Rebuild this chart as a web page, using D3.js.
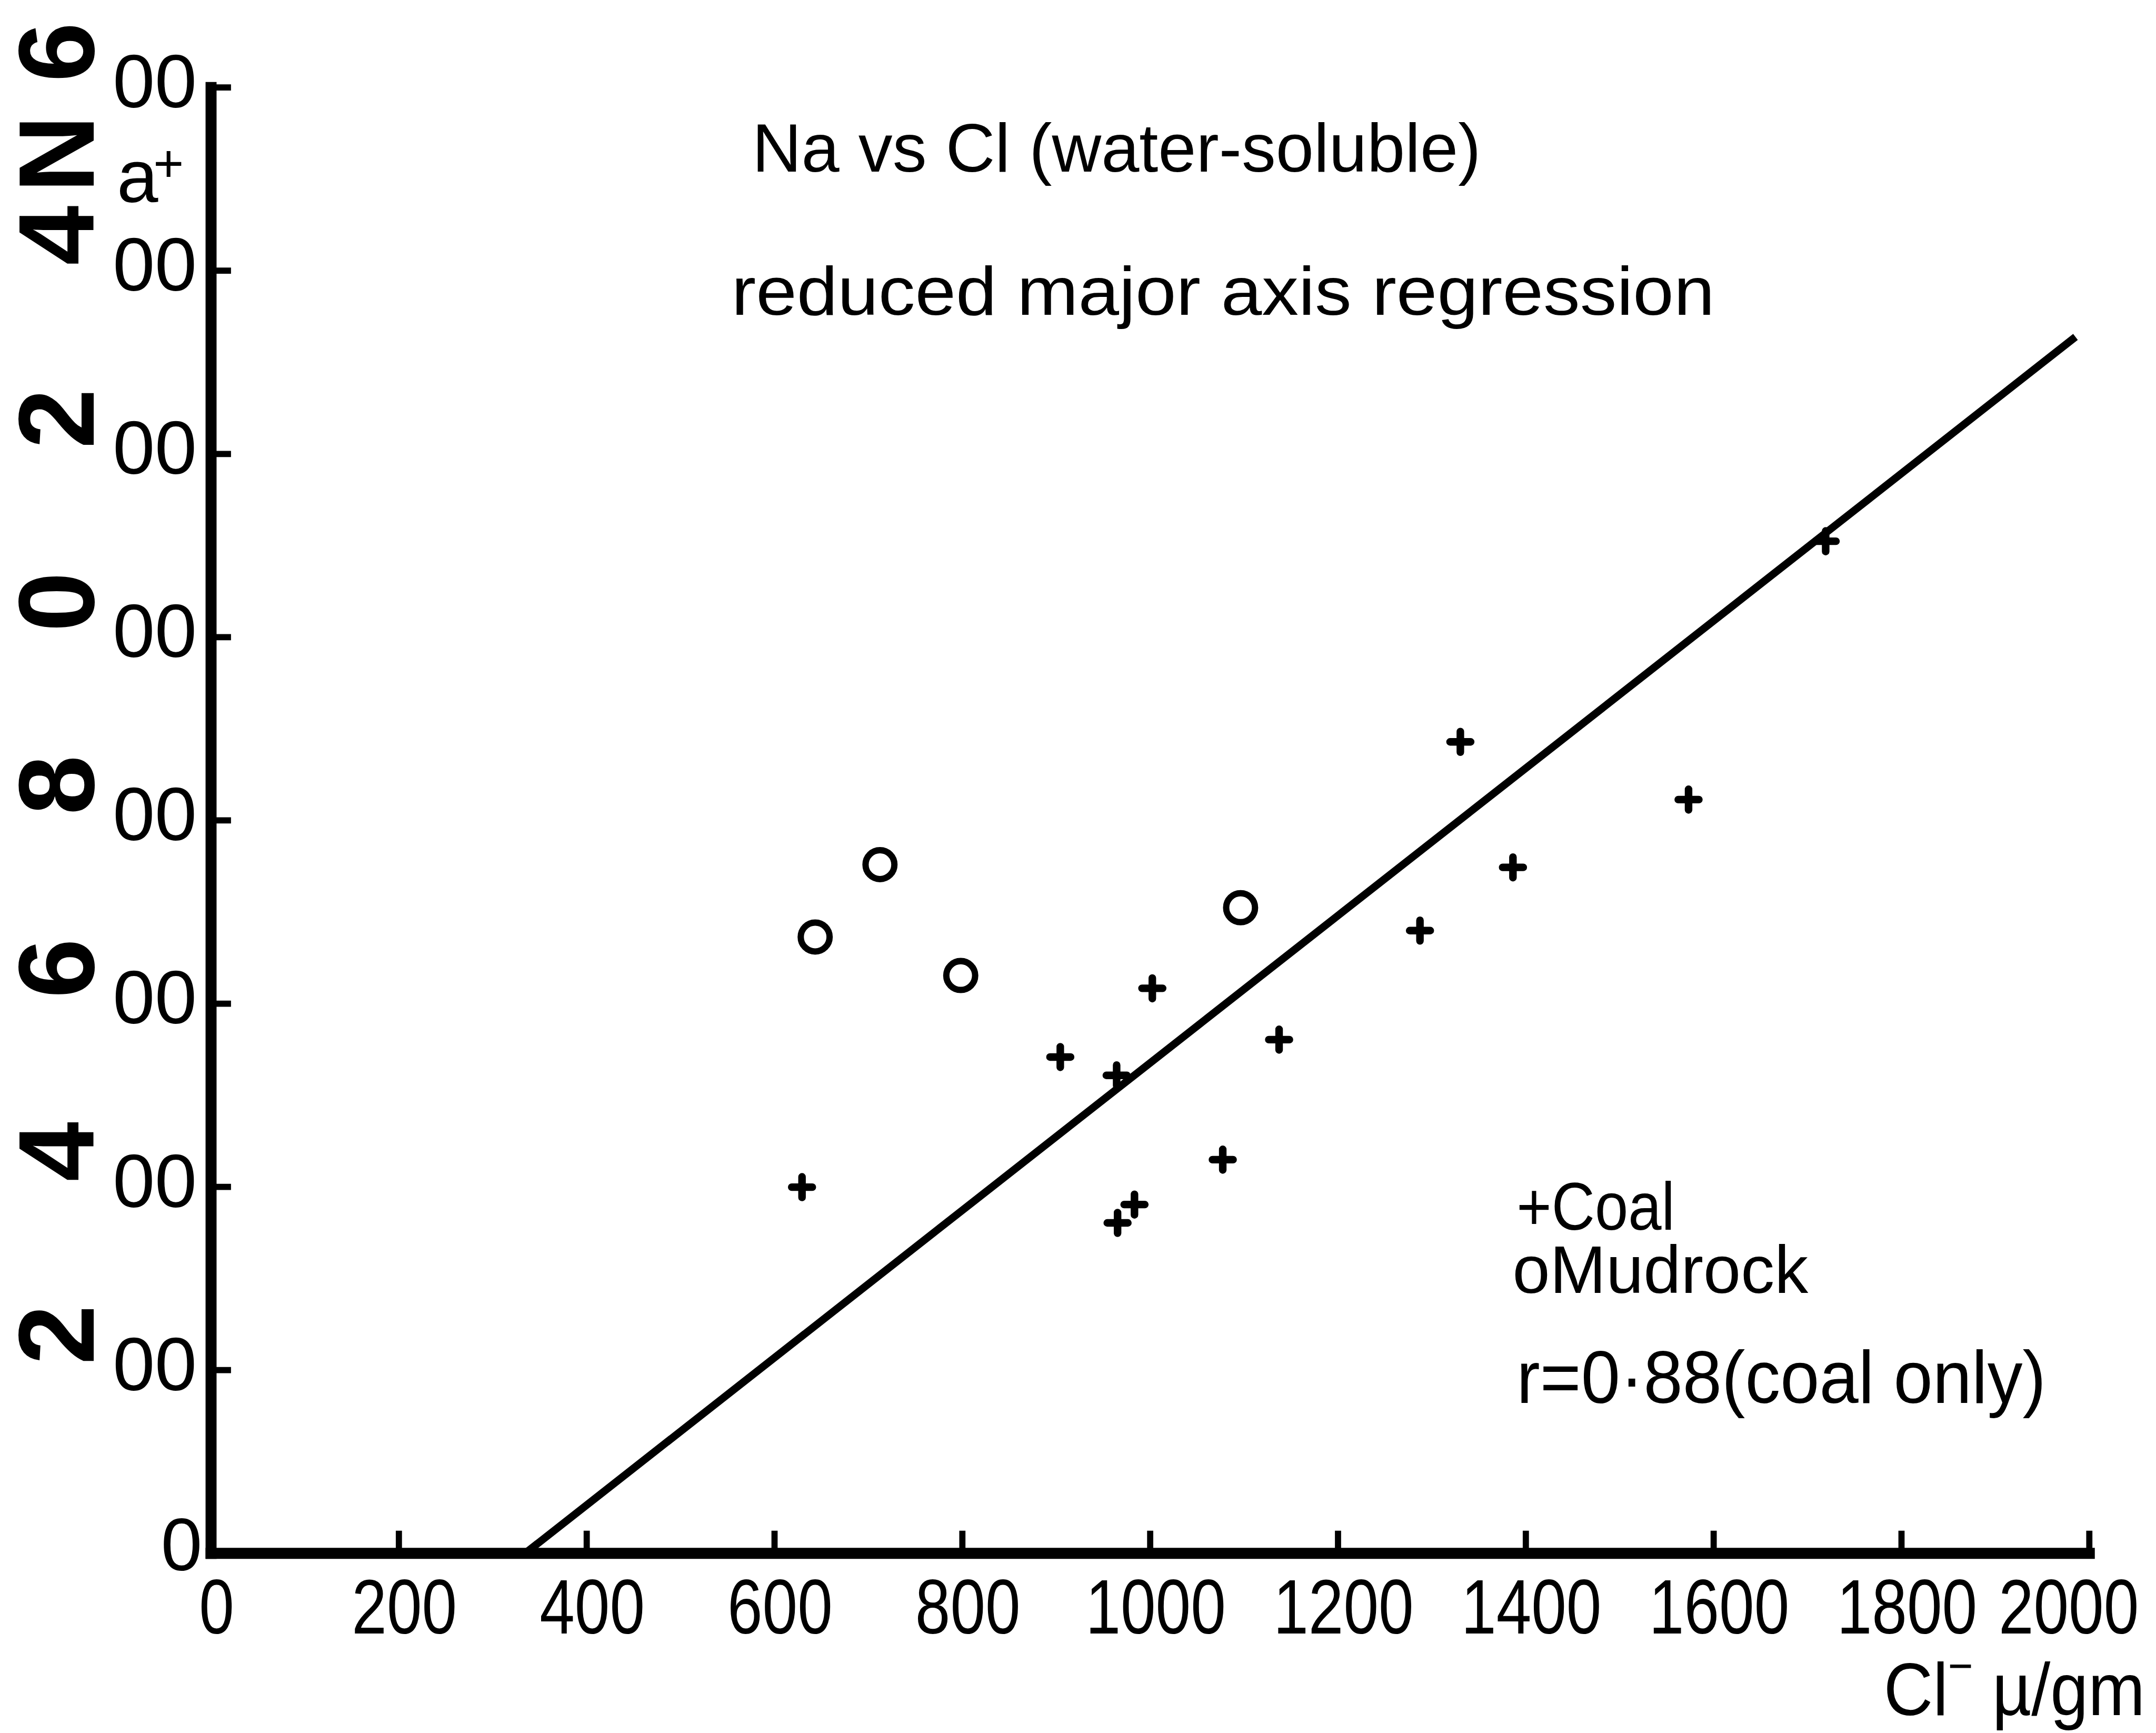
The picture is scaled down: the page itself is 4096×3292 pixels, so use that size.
<!DOCTYPE html>
<html>
<head>
<meta charset="utf-8">
<script src="https://cdn.jsdelivr.net/npm/d3@7"></script>
<style>
  html, body { margin: 0; padding: 0; background: #fff; }
  svg { display: block; }
</style>
</head>
<body>
<div id="chart"></div>
<script>
// values (µg/gm)
const coalCl = [630, 905, 965, 1003, 966, 984, 1078, 1138, 1288, 1331, 1387, 1574, 1720];
const coalNa = [399, 541, 521, 616, 360, 380, 429, 560, 679, 885, 748, 822, 1104];
const mudCl = [644, 713, 799, 1097];
const mudNa = [672, 751, 630, 704];

// reduced major axis regression line (coal only), end points
const lineCl = [336, 1986];
const lineNa = [0, 1327];

const xTicks = [0, 200, 400, 600, 800, 1000, 1200, 1400, 1600, 1800, 2000];
const yTicks = [0, 200, 400, 600, 800, 1000, 1200, 1400, 1600];

const titleLines = ["Na vs Cl (water-soluble)", "reduced major axis regression"];
const legendLines = ["+Coal", "oMudrock", "r=0\u00b788(coal only)"];

const SANS = "'Liberation Sans', Arial, sans-serif";

// drawing units = reference picture shrunk to 1568 wide, scaled up by the viewBox
const W = 1568, H = 1260;
const svg = d3.select("#chart").append("svg")
    .attr("width", 4096)
    .attr("height", 3292)
    .attr("viewBox", `0 0 ${W} ${H}`)
    .style("background", "#fff");

const x = d3.scaleLinear().domain([0, 2000]).range([153, 1519]);
const y = d3.scaleLinear().domain([0, 1600]).range([1129, 63]);

// x axis, ticks pointing up into the plot; digits are narrow in the original
svg.append("g")
    .attr("transform", `translate(0,${y(0)})`)
    .call(d3.axisBottom(x).tickValues(xTicks).tickFormat(d3.format("d"))
        .tickSize(-16).tickSizeOuter(0).tickPadding(19))
    .call(g => {
        g.attr("font-family", null).attr("font-size", null).attr("color", "#000");
        g.select(".domain").attr("stroke-width", 8).attr("stroke-linecap", "square");
        g.selectAll(".tick line").attr("stroke-width", 4.5);
        g.selectAll(".tick text")
            .attr("font-family", SANS).attr("font-size", 56)
            .attr("textLength", d => String(d).length * 25.5)
            .attr("lengthAdjust", "spacingAndGlyphs")
            .attr("dx", d => d === 2000 ? -15 : 4);
    });

// y axis, ticks pointing right; labels drawn separately below
svg.append("g")
    .attr("transform", `translate(${x(0)},0)`)
    .call(d3.axisLeft(y).tickValues(yTicks).tickFormat(() => "")
        .tickSize(-15).tickSizeOuter(0))
    .call(g => {
        g.attr("color", "#000");
        g.select(".domain").attr("stroke-width", 8).attr("stroke-linecap", "square");
        g.selectAll(".tick line").attr("stroke-width", 4.5);
        g.selectAll(".tick text").remove();
    });

// y tick labels: leading digits printed sideways, as in the scan
// (the "1" of 1000-1600 sits past the left edge of the scan)
const yLab = svg.append("g").attr("font-family", SANS).attr("fill", "#000");
yTicks.forEach(d => {
    const s = String(d);
    const t = yLab.append("text");
    if (d === 0) {
        t.attr("x", 117).attr("y", y(d) + 13).attr("font-size", 54).text(s);
        return;
    }
    const lead = s.slice(0, -2);
    const xs = lead.length === 2 ? [-80, 68] : [68];
    t.append("tspan")
        .attr("x", xs.join(" "))
        .attr("y", y(d) - 3.5)
        .attr("rotate", -90)
        .attr("font-size", 78)
        .attr("font-weight", "bold")
        .text(lead);
    t.append("tspan")
        .attr("x", 82)
        .attr("y", y(d) + 15)
        .attr("font-size", 55)
        .text(s.slice(-2));
});

// y axis title Na+ (N sideways too)
const naLab = svg.append("text").attr("font-family", SANS).attr("fill", "#000");
naLab.append("tspan").attr("x", 68).attr("y", 140).attr("rotate", -90)
    .attr("font-size", 78).attr("font-weight", "bold").text("N");
naLab.append("tspan").attr("x", 85).attr("y", 147).attr("font-size", 54).text("a");
naLab.append("tspan").attr("x", 111.5).attr("y", 132).attr("font-size", 38).text("+");

// x axis title
const clLab = svg.append("text")
    .attr("font-family", SANS).attr("fill", "#000")
    .attr("x", 1370).attr("y", 1247).attr("font-size", 54)
    .attr("textLength", 190).attr("lengthAdjust", "spacingAndGlyphs");
clLab.append("tspan").text("Cl");
clLab.append("tspan").attr("font-size", 34).attr("dy", -24).text("\u2212");
clLab.append("tspan").attr("dy", 24).text(" \u00b5/gm");

// regression line
const line = d3.line().x(d => x(d[0])).y(d => y(d[1]));
svg.append("path")
    .datum(d3.zip(lineCl, lineNa))
    .attr("d", line)
    .attr("fill", "none")
    .attr("stroke", "#000")
    .attr("stroke-width", 5.5);

// coal: plus signs
svg.append("g").selectAll("path")
    .data(d3.zip(coalCl, coalNa))
    .join("path")
    .attr("transform", d => `translate(${x(d[0])},${y(d[1])})`)
    .attr("d", "M-7.5,0H7.5M0,-7.5V7.5")
    .attr("stroke", "#000")
    .attr("stroke-width", 5.5)
    .attr("stroke-linecap", "round");

// mudrock: open circles
svg.append("g").selectAll("circle")
    .data(d3.zip(mudCl, mudNa))
    .join("circle")
    .attr("cx", d => x(d[0]))
    .attr("cy", d => y(d[1]))
    .attr("r", 10.5)
    .attr("fill", "none")
    .attr("stroke", "#000")
    .attr("stroke-width", 4.6);

// title block
const txt = svg.append("g").attr("font-family", SANS).attr("fill", "#000");
txt.append("text").attr("x", 547).attr("y", 124.5).attr("font-size", 50)
    .attr("textLength", 530).attr("lengthAdjust", "spacingAndGlyphs").text(titleLines[0]);
txt.append("text").attr("x", 532).attr("y", 229).attr("font-size", 50)
    .attr("textLength", 715).attr("lengthAdjust", "spacingAndGlyphs").text(titleLines[1]);

// legend
txt.append("text").attr("x", 1103).attr("y", 894).attr("font-size", 49)
    .attr("textLength", 115).attr("lengthAdjust", "spacingAndGlyphs").text(legendLines[0]);
txt.append("text").attr("x", 1100).attr("y", 940).attr("font-size", 49)
    .attr("textLength", 215).attr("lengthAdjust", "spacingAndGlyphs").text(legendLines[1]);
txt.append("text").attr("x", 1103).attr("y", 1020).attr("font-size", 54)
    .attr("textLength", 385).attr("lengthAdjust", "spacingAndGlyphs").text(legendLines[2]);
</script>
</body>
</html>
